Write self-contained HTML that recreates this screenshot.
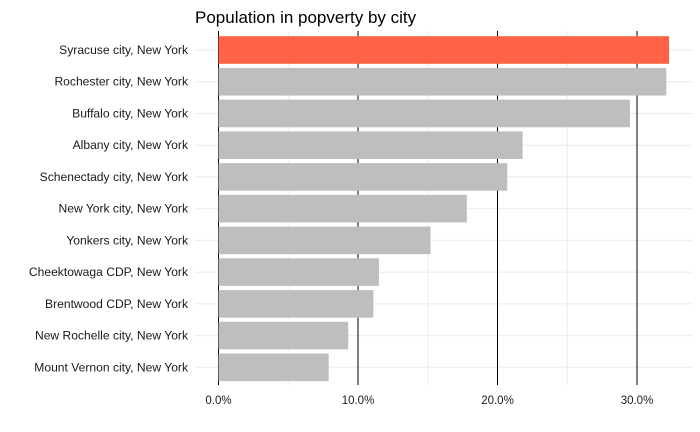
<!DOCTYPE html>
<html><head><meta charset="utf-8"><style>
body{margin:0;background:#fff}
svg{display:block;font-family:"Liberation Sans",Arial,sans-serif}
</style></head><body>
<svg id="chart" width="700" height="432">
<text x="195" y="23" font-size="17" fill="#000">Population in popverty by city</text>
<g id="grid"></g><g id="bars"></g><g id="labels"></g>
</svg>
<script>
const cities = ["Syracuse city, New York","Rochester city, New York","Buffalo city, New York","Albany city, New York","Schenectady city, New York","New York city, New York","Yonkers city, New York","Cheektowaga CDP, New York","Brentwood CDP, New York","New Rochelle city, New York","Mount Vernon city, New York"];
const values = [32.3,32.1,29.5,21.8,20.7,17.8,15.2,11.5,11.1,9.3,7.9];
const highlight = ["Syracuse city, New York"];
const ticks = [0,10,20,30];
const tickLabels = ["0.0%","10.0%","20.0%","30.0%"];
const minorTicks = [5,15,25,35];
const NS="http://www.w3.org/2000/svg";
const xs = v => 218.5 + v*13.95;
const ys = i => 50 + i*31.73;
const pTop=31,pBottom=385,pLeft=195,pRight=692;
function mk(t,a,p){const e=document.createElementNS(NS,t);for(const k in a)e.setAttribute(k,a[k]);p.appendChild(e);return e;}
const grid=document.getElementById('grid'),bars=document.getElementById('bars'),labels=document.getElementById('labels');
cities.forEach((c,i)=>{const l=mk('line',{x1:pLeft,x2:pRight,y1:ys(i),y2:ys(i),stroke:'#ebebeb','stroke-width':1},grid);

});
minorTicks.forEach(v=>{const l=mk('line',{x1:xs(v),x2:xs(v),y1:pTop,y2:pBottom,stroke:'#ebebeb','stroke-width':1},grid);

});
ticks.forEach((v,i)=>{const l=mk('line',{x1:xs(v),x2:xs(v),y1:pTop,y2:pBottom,stroke:'#000','stroke-width':1},grid);


const t=mk('text',{x:xs(v),y:404,'font-size':11.5,'text-anchor':'middle',fill:'#1a1a1a'},labels);t.textContent=tickLabels[i];

});
cities.forEach((c,i)=>{const r=mk('rect',{x:xs(0),y:ys(i)-13.8,width:xs(values[i])-xs(0),height:27.6,fill:highlight.includes(c)?'#ff6347':'#bebebe'},bars);


const t=mk('text',{x:188,y:ys(i)+4,'font-size':12.1,'text-anchor':'end',fill:'#1a1a1a'},labels);t.textContent=c;

});
</script>
</body></html>
